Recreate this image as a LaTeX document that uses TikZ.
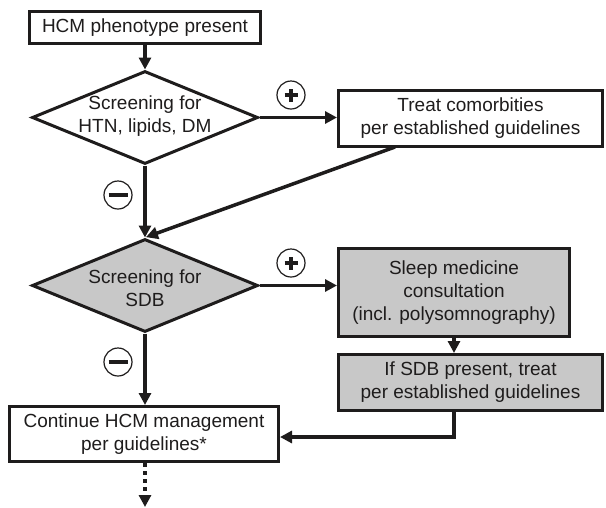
\documentclass[tikz,border=0pt]{standalone}
\usepackage{fontspec}
\setmainfont{Liberation Sans}
\usetikzlibrary{shapes.geometric,arrows.meta}
\definecolor{boxgray}{RGB}{200,200,200}
\definecolor{ink}{RGB}{30,28,28}
\begin{document}
\begin{tikzpicture}[x=1pt,y=-1pt,
  box/.style={draw=ink, line width=3pt, rectangle, inner sep=0pt, text=ink,
    font=\fontsize{19}{23}\selectfont, align=center},
  dia/.style={draw=ink, line width=3pt, diamond, inner sep=0pt,
    minimum width=226pt, minimum height=93pt},
  lbl/.style={text=ink, font=\fontsize{19}{23}\selectfont, align=center, inner sep=0pt},
  conn/.style={draw=ink, line width=3.5pt, -{Triangle[length=12pt,width=12pt]}},
  sign/.style={draw=ink, circle, line width=1.2pt, minimum size=28pt, inner sep=0pt},
  signbar/.style={draw=ink, line width=3.8pt}
]
\useasboundingbox (0,0) rectangle (606,507);

% boxes
\node[box, minimum width=231pt, minimum height=32pt] (b1) at (145,27.5) {HCM phenotype present};
\node[dia, fill=white] (d1) at (145,117.5) {};
\node[lbl] (d1t) at (145,116) {Screening for\\HTN, lipids, DM};
\node[box, minimum width=264pt, minimum height=56pt] (b2) at (470.5,118.5) {Treat comorbities\\per established guidelines};
\node[dia, fill=boxgray] (d2) at (145,285.5) {};
\node[lbl] (d2t) at (145,288) {Screening for\\SDB};
\node[box, fill=boxgray, minimum width=231pt, minimum height=88pt] (b3) at (454,292.5) {Sleep medicine\\consultation\\(incl. polysomnography)};
\node[box, fill=boxgray, minimum width=264pt, minimum height=56pt] (b4) at (470.5,382.5) {If SDB present, treat\\per established guidelines};
\node[box, minimum width=269pt, minimum height=55pt] (b5) at (144,434) {Continue HCM management\\per guidelines*};

\coordinate (c2) at (395,147);
\coordinate (endc) at (145,507);

% connectors
\draw[conn] (b1.south) -- (d1.north);
\draw[conn] (d1.east) -- (b2.west |- d1.east);
\draw[conn] (d1.south) -- (d2.north);
\draw[conn, shorten >=1pt] (c2) -- (d2.north);
\draw[conn] (d2.east) -- (b3.west |- d2.east);
\draw[conn] (b3.south) -- (b4.north -| b3.south);
\draw[conn] (b4.south -| b3.south) |- ([yshift=-3pt]b5.east);
\draw[conn] (d2.south) -- (b5.north -| d2.south);
\draw[conn, dash pattern=on 4pt off 4pt] (b5.south -| d2.south) -- (endc);

% signs
\node[sign] (p1) at (291,95) {};
\draw[signbar] ([xshift=-6.5pt]p1.center) -- ([xshift=6.5pt]p1.center);
\draw[signbar] ([yshift=-6.5pt]p1.center) -- ([yshift=6.5pt]p1.center);
\node[sign] (p2) at (291,263) {};
\draw[signbar] ([xshift=-6.5pt]p2.center) -- ([xshift=6.5pt]p2.center);
\draw[signbar] ([yshift=-6.5pt]p2.center) -- ([yshift=6.5pt]p2.center);
\node[sign] (m1) at (118,195) {};
\draw[signbar] ([xshift=-9.5pt]m1.center) -- ([xshift=9.5pt]m1.center);
\node[sign] (m2) at (118,362) {};
\draw[signbar] ([xshift=-9.5pt]m2.center) -- ([xshift=9.5pt]m2.center);
\end{tikzpicture}
\end{document}
